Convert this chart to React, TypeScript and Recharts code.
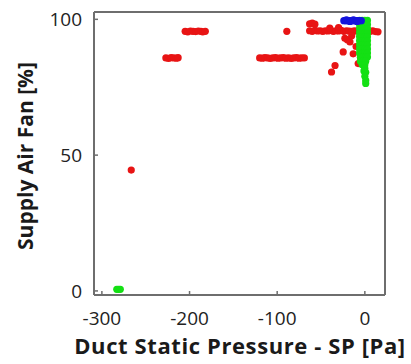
import React from "react";
import { ScatterChart, Scatter, XAxis, YAxis, CartesianGrid } from "recharts";

const xTicks = [-300, -200, -100, 0];
const yTicks = [0, 50, 100];
const xDomain: [number, number] = [-309, 23];
const yDomain: [number, number] = [-1.5, 102.7];
const xTitle = "Duct Static Pressure - SP [Pa]";
const yTitle = "Supply Air Fan [%]";

const redPoints: [number, number][] = [
  [-205, 95.6], [-202, 95.4], [-199, 95.7], [-196, 95.6], [-193, 95.5], [-190, 95.7], [-187, 95.6], [-185, 95.4], [-182, 95.6],
  [-227, 85.8], [-224, 85.6], [-221, 85.9], [-218, 85.8], [-215, 85.7], [-213, 85.9],
  [-120, 85.8], [-117, 85.7], [-114, 85.9], [-111, 85.8], [-108, 85.6], [-105, 85.8], [-102, 85.9], [-99, 85.7],
  [-96, 85.8], [-93, 85.9], [-90, 85.7], [-87, 85.8], [-84, 85.6], [-81, 85.8], [-78, 85.9], [-75, 85.7], [-72, 85.8], [-69, 85.8],
  [-89, 95.6], [-266.5, 44.5],
  [-63, 95.8], [-60, 95.6], [-57, 95.9], [-54, 95.7], [-51, 95.8], [-48, 95.6], [-45, 95.8], [-42, 95.7], [-39, 95.9],
  [-36, 95.6], [-33, 95.8], [-30, 95.7], [-27, 95.9], [-24, 95.6], [-21, 95.8], [-18, 95.7], [-15, 95.6], [-12, 95.8],
  [-9, 95.7], [-6, 95.9], [-3, 95.6], [0, 95.8], [3, 95.7], [6, 95.6], [9, 95.8], [12, 95.5], [15, 95.4],
  [-63, 98.3], [-60, 98.6], [-57, 98.2], [-40, 96.8], [-30, 97],
  [-22.8, 93], [-20, 92.5], [-17, 91.7], [-15, 94], [-10, 90], [-24.7, 88], [-13.3, 87.3], [-5, 86],
  [-7.6, 83.7], [-34, 83], [-38, 80.6],
];

const greenPoints: [number, number][] = [
  [-6, 99.6], [-3, 99.6], [0, 99.6], [3, 99.6],
  [-6, 98.1], [-3, 98.1], [0, 98.1], [3, 98.1],
  [-6, 96.6], [-3, 96.6], [0, 96.6], [3, 96.6],
  [-6, 95.1], [-3, 95.1], [0, 95.1], [3, 95.1],
  [-6, 93.6], [-3, 93.6], [0, 93.6], [3, 93.6],
  [-6, 92.1], [-3, 92.1], [0, 92.1], [3, 92.1],
  [-6, 90.6], [-3, 90.6], [0, 90.6], [3, 90.6],
  [-6, 89.1], [-3, 89.1], [0, 89.1], [3, 89.1],
  [-6, 87.6], [-3, 87.6], [0, 87.6], [3, 87.6],
  [-5, 86.1], [-2, 86.1], [1, 86.1], [3, 86.1],
  [-5, 84.6], [-2, 84.6], [1, 84.6],
  [-3, 83.3], [0, 83.3],
  [0, 82], [-1, 81], [1, 80.5], [0, 79], [1, 77.5], [1, 76.4],
  [-283, 0.6], [-281, 0.6], [-279, 0.6],
];

const bluePoints: [number, number][] = [
  [-24, 99.5], [-22, 99.5], [-20, 99.5], [-18, 99.5], [-16, 99.5], [-14, 99.5],
  [-12, 99.5], [-10, 99.5], [-8, 99.5], [-6, 99.5], [-4, 99.5],
  [-21, 99.8], [-17, 99.2], [-13, 99.8], [-9, 99.2],
];

const toData = (pts: [number, number][]) => pts.map(([x, y]) => ({ x, y }));
const redData = toData(redPoints);
const greenData = toData(greenPoints);
const blueData = toData(bluePoints);

const AXIS = "#6e6e6e";
const FONT = "'Open Sans', 'Liberation Sans', sans-serif";

const dot = (color: string) => (p: any) => (
  <circle cx={p.cx} cy={p.cy} r={3.6} fill={color} />
);

export default function App() {
  return (
    <div style={{ position: "relative", width: 411, height: 364, background: "#fff", overflow: "hidden" }}>
      <style>{"body{margin:0;background:#fff}"}</style>
      <ScatterChart
        width={411}
        height={364}
        margin={{ top: 12, right: 26, bottom: 0, left: 0 }}
      >
        <CartesianGrid
          stroke={AXIS}
          strokeWidth={2}
          horizontalCoordinatesGenerator={(p: any) => [p.offset.top, p.offset.top + p.offset.height]}
          verticalCoordinatesGenerator={(p: any) => [p.offset.left, p.offset.left + p.offset.width]}
        />
        <XAxis
          type="number"
          dataKey="x"
          domain={xDomain}
          ticks={xTicks}
          allowDataOverflow
          height={69}
          tickSize={-4}
          tickMargin={21}
          stroke={AXIS}
          axisLine={{ stroke: AXIS, strokeWidth: 2 }}
          tickLine={{ stroke: AXIS, strokeWidth: 1.5 }}
          tick={{ fill: "#222", fontSize: 19, fontFamily: FONT }}
        />
        <YAxis
          type="number"
          dataKey="y"
          domain={yDomain}
          ticks={yTicks}
          allowDataOverflow
          width={94}
          tickSize={-4}
          tickMargin={16}
          stroke={AXIS}
          axisLine={{ stroke: AXIS, strokeWidth: 2 }}
          tickLine={{ stroke: AXIS, strokeWidth: 1.5 }}
          tick={{ fill: "#222", fontSize: 19, fontFamily: FONT }}
        />
        <Scatter data={redData} fill="#e81414" shape={dot("#e81414")} isAnimationActive={false} />
        <Scatter data={greenData} fill="#14e014" shape={dot("#14e014")} isAnimationActive={false} />
        <Scatter data={blueData} fill="#1414dc" shape={dot("#1414dc")} isAnimationActive={false} />
      </ScatterChart>
      <div
        style={{
          position: "absolute",
          left: 0,
          width: 480,
          top: 334,
          textAlign: "center",
          fontFamily: FONT,
          fontWeight: "bold",
          fontSize: 22,
          lineHeight: "22px",
          letterSpacing: "0.6px",
          color: "#1a1a1a",
          whiteSpace: "nowrap",
        }}
      >
        {xTitle}
      </div>
      <div
        style={{
          position: "absolute",
          left: 25,
          top: 156,
          transform: "translate(-50%, -50%) rotate(-90deg)",
          fontFamily: FONT,
          fontWeight: "bold",
          fontSize: 21,
          lineHeight: "24px",
          color: "#1a1a1a",
          whiteSpace: "nowrap",
        }}
      >
        {yTitle}
      </div>
    </div>
  );
}
